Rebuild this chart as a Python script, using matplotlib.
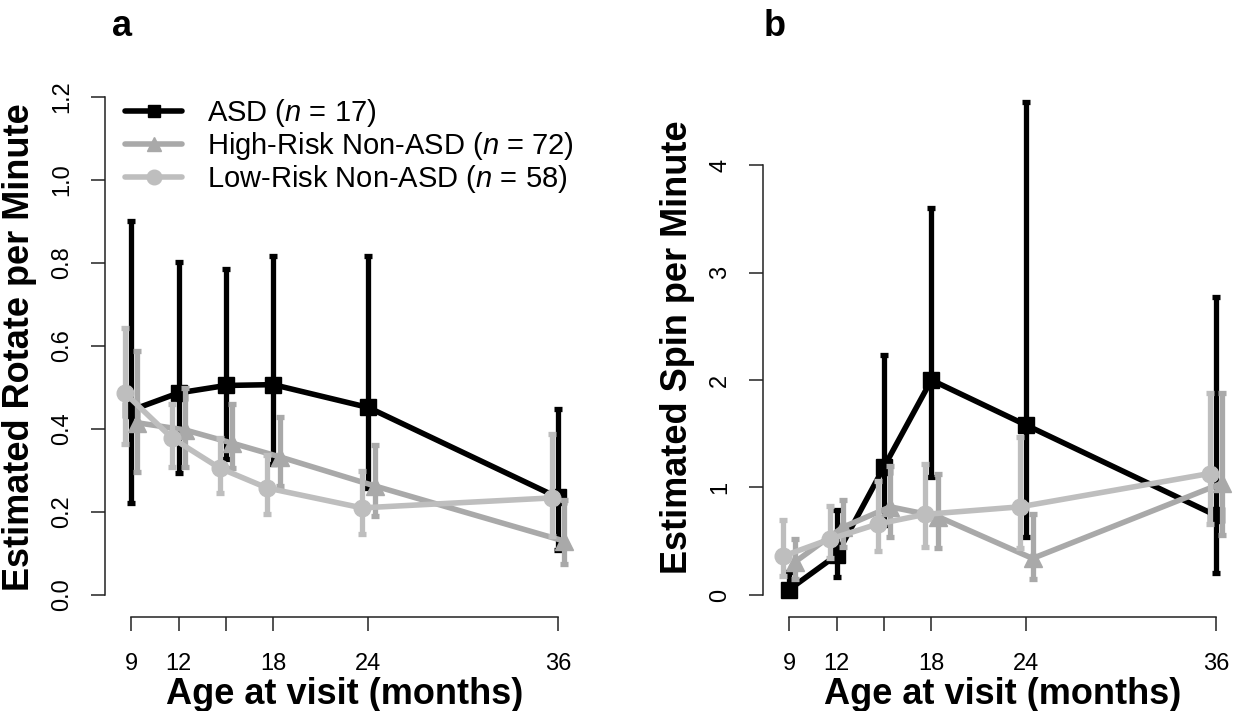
import matplotlib
matplotlib.use("Agg")
import matplotlib.pyplot as plt
from matplotlib.lines import Line2D

plt.rcParams['font.family'] = ['Liberation Sans', 'DejaVu Sans']
plt.rcParams['mathtext.fontset'] = 'custom'
plt.rcParams['mathtext.it'] = 'Liberation Sans:italic'
plt.rcParams['mathtext.rm'] = 'Liberation Sans'

## visit ages and per-group offsets (months)
months = [9, 12, 15, 18, 24, 36]
tick_labels = ['9', '12', '', '18', '24', '36']

## panel a: rotate per minute (estimate, lower, upper)
asd_rot = [0.445, 0.487, 0.505, 0.507, 0.452, 0.235]
asd_rot_lo = [0.222, 0.294, 0.328, 0.316, 0.258, 0.108]
asd_rot_hi = [0.902, 0.802, 0.786, 0.817, 0.817, 0.448]
hr_rot = [0.415, 0.398, 0.366, 0.333, 0.263, 0.130]
hr_rot_lo = [0.296, 0.309, 0.306, 0.263, 0.190, 0.075]
hr_rot_hi = [0.588, 0.500, 0.460, 0.430, 0.362, 0.230]
lr_rot = [0.487, 0.378, 0.306, 0.258, 0.210, 0.234]
lr_rot_lo = [0.364, 0.308, 0.245, 0.195, 0.147, 0.142]
lr_rot_hi = [0.643, 0.460, 0.378, 0.337, 0.300, 0.388]

## panel b: spin per minute
asd_spin = [0.05, 0.37, 1.19, 2.00, 1.58, 0.74]
asd_spin_lo = [0.00, 0.17, 0.65, 1.10, 0.54, 0.20]
asd_spin_hi = [0.21, 0.79, 2.23, 3.60, 4.59, 2.77]
hr_spin = [0.31, 0.63, 0.82, 0.73, 0.34, 1.04]
hr_spin_lo = [0.15, 0.45, 0.54, 0.44, 0.15, 0.56]
hr_spin_hi = [0.52, 0.88, 1.20, 1.13, 0.75, 1.88]
lr_spin = [0.36, 0.52, 0.66, 0.75, 0.82, 1.13]
lr_spin_lo = [0.18, 0.34, 0.41, 0.45, 0.44, 0.66]
lr_spin_hi = [0.70, 0.83, 1.06, 1.22, 1.47, 1.88]

labels = [r'ASD ($\it{n}$ = 17)',
          r'High-Risk Non-ASD ($\it{n}$ = 72)',
          r'Low-Risk Non-ASD ($\it{n}$ = 58)']
colors = ['black', '#a9a9a9', '#bebebe']
markers = ['s', '^', 'o']
msizes = [11.5, 13, 12]
offsets = [0.0, 0.4, -0.4]

fig = plt.figure(figsize=(12.46, 7.11), dpi=100)
W, H = 1246.0, 711.0
ax_a = fig.add_axes([105 / W, (H - 617) / H, 479 / W, 539 / H])
ax_b = fig.add_axes([763 / W, (H - 617) / H, 479 / W, 539 / H])


def draw_group(ax, vals, lo, hi, i):
    x = [m + offsets[i] for m in months]
    err = [[v - l for v, l in zip(vals, lo)], [h - v for v, h in zip(vals, hi)]]
    ax.errorbar(x, vals, yerr=err, color=colors[i], lw=4, marker=markers[i],
                ms=msizes[i], elinewidth=3.8, capsize=3.2, capthick=3.8,
                solid_capstyle='butt', zorder=2 + i)


def style_axis(ax, yticks, yticklabels, ylabel):
    ax.set_xlim(7.35, 37.65)
    for s in ['top', 'right']:
        ax.spines[s].set_visible(False)
    ax.spines['left'].set_bounds(yticks[0], yticks[-1])
    ax.spines['bottom'].set_bounds(9, 36)
    for s in ['left', 'bottom']:
        ax.spines[s].set_linewidth(1.1)
        ax.spines[s].set_color('#222222')
    ax.set_xticks(months)
    ax.set_xticklabels(tick_labels)
    ax.set_yticks(yticks)
    ax.set_yticklabels(yticklabels, rotation=90, va='center')
    ax.tick_params(axis='x', length=10, width=1.1, pad=16, labelsize=17, color='#222222')
    ax.tick_params(axis='y', length=10, width=1.1, pad=13, labelsize=17, color='#222222')
    ax.set_xlabel('Age at visit (months)', fontsize=26, fontweight='bold', labelpad=1)
    ax.set_ylabel(ylabel, fontsize=26, fontweight='bold', labelpad=10)


# panel a
draw_group(ax_a, asd_rot, asd_rot_lo, asd_rot_hi, 0)
draw_group(ax_a, hr_rot, hr_rot_lo, hr_rot_hi, 1)
draw_group(ax_a, lr_rot, lr_rot_lo, lr_rot_hi, 2)
ax_a.set_ylim(-0.053, 1.246)
style_axis(ax_a, [0, 0.2, 0.4, 0.6, 0.8, 1.0, 1.2],
           ['0.0', '0.2', '0.4', '0.6', '0.8', '1.0', '1.2'],
           'Estimated Rotate per Minute')

# panel b
draw_group(ax_b, asd_spin, asd_spin_lo, asd_spin_hi, 0)
draw_group(ax_b, hr_spin, hr_spin_lo, hr_spin_hi, 1)
draw_group(ax_b, lr_spin, lr_spin_lo, lr_spin_hi, 2)
ax_b.set_ylim(-0.205, 4.81)
style_axis(ax_b, [0, 1, 2, 3, 4], ['0', '1', '2', '3', '4'],
           'Estimated Spin per Minute')

# legend
leg_ms = [9, 10.5, 10.5]
handles = [Line2D([], [], color=colors[i], lw=4, marker=markers[i],
                  ms=leg_ms[i], solid_capstyle='round') for i in range(3)]
ax_a.legend(handles, labels, loc='upper left', bbox_to_anchor=(125 / W, (H - 97) / H),
            bbox_transform=fig.transFigure, frameon=False, fontsize=21,
            handlelength=1.97, handletextpad=0.85, labelspacing=0.03,
            borderpad=0, borderaxespad=0)

fig.text(122 / W, 1 - 27 / H, 'a', fontsize=26, fontweight='bold', ha='center', va='center')
fig.text(775 / W, 1 - 27 / H, 'b', fontsize=26, fontweight='bold', ha='center', va='center')

fig.savefig('out.png', dpi=100)
